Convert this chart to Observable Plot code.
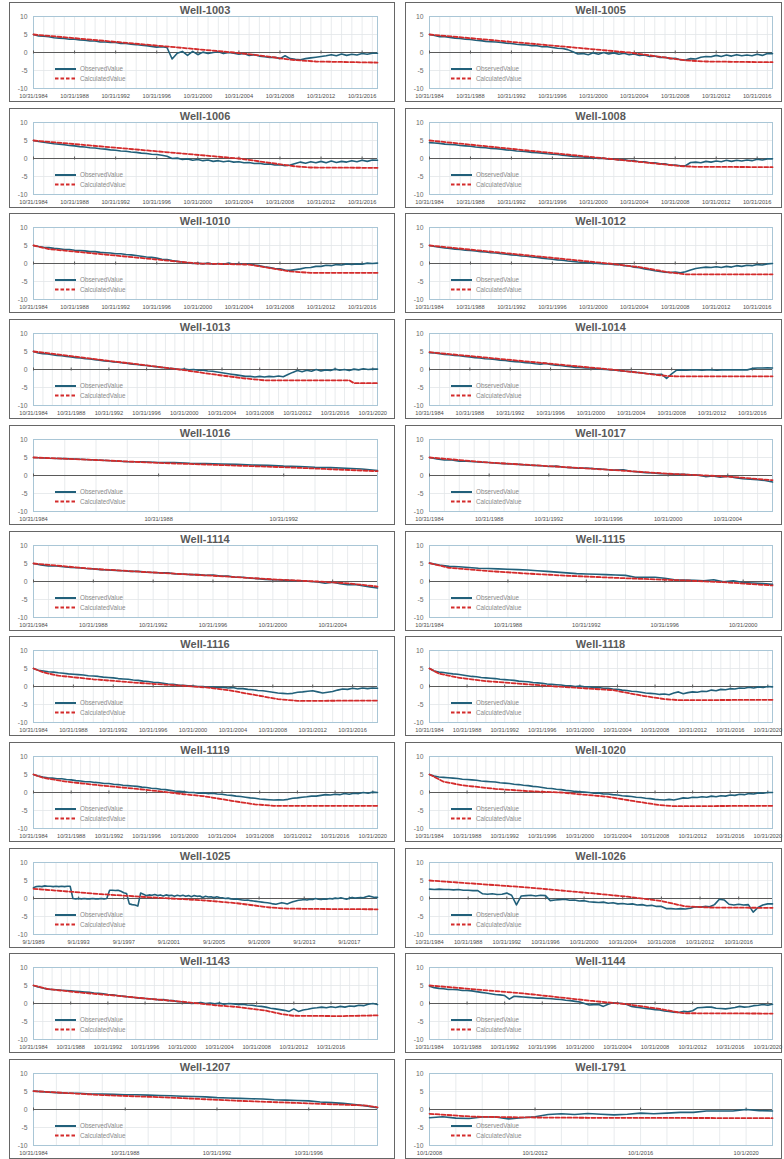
<!DOCTYPE html>
<html>
<head>
<meta charset="utf-8">
<script src="https://cdn.jsdelivr.net/npm/d3@7"></script>
<script src="https://cdn.jsdelivr.net/npm/@observablehq/plot@0.6"></script>
<style>
  html, body { margin: 0; padding: 0; background: #fff; }
  #page { position: relative; width: 784px; height: 1159px; overflow: hidden;
          font-family: "Liberation Sans", Arial, sans-serif; }
  .panel { position: absolute; box-sizing: border-box; height: 100px;
           border: 1px solid #666; background: #fff; }
  .panel .title { position: absolute; top: 1px; height: 13px; line-height: 13px;
                  text-align: center; font-weight: bold; font-size: 11px; color: #595959; }
  .panel .chart { position: absolute; top: 12px; left: 0; }
  .panel .legend { position: absolute; overflow: visible; }
</style>
</head>
<body>
<div id="page"></div>
<script>
// ---- Axis labels (first date of every fourth year shown under each chart) ----
const ticks84to92 = ["10/31/1984", "10/31/1988", "10/31/1992"];
const ticks84to96 = ["10/31/1984", "10/31/1988", "10/31/1992", "10/31/1996"];
const ticks84to00 = ["10/31/1984", "10/31/1988", "10/31/1992", "10/31/1996", "10/31/2000"];
const ticks84to04 = ["10/31/1984", "10/31/1988", "10/31/1992", "10/31/1996", "10/31/2000", "10/31/2004"];
const ticks84to16 = ["10/31/1984", "10/31/1988", "10/31/1992", "10/31/1996", "10/31/2000",
                     "10/31/2004", "10/31/2008", "10/31/2012", "10/31/2016"];
const ticks84to20 = ["10/31/1984", "10/31/1988", "10/31/1992", "10/31/1996", "10/31/2000",
                     "10/31/2004", "10/31/2008", "10/31/2012", "10/31/2016", "10/31/2020"];
const ticks89to17 = ["9/1/1989", "9/1/1993", "9/1/1997", "9/1/2001", "9/1/2005", "9/1/2009", "9/1/2013", "9/1/2017"];
const ticks08to20 = ["10/1/2008", "10/1/2012", "10/1/2016", "10/1/2020"];

const valueTicks = [-10, -5, 0, 5, 10];
const seriesNames = ["ObservedValue", "CalculatedValue"];

// ---- Observed heads: one reading every 6 months from the well's first date
//      (Well-1025: every 3 months) ----
const obs1003 = [5.0, 4.6, 4.5, 4.4, 4.1, 4.0, 3.9, 3.7, 3.7, 3.5,
  3.4, 3.2, 3.2, 2.9, 2.9, 2.8, 2.8, 2.5, 2.5, 2.3,
  2.2, 2.0, 1.9, 1.7, 1.5, 1.6, 1.4, -1.8, -0.2, 0.3,
  -0.8, 0.3, -0.6, 0.1, -0.3, 0.0, 0.2, -0.3, 0.0, -0.2,
  -0.5, -0.3, -0.8, -0.6, -1.0, -1.2, -1.4, -1.3, -1.7, -0.9,
  -1.7, -1.9, -2.0, -1.7, -1.5, -1.3, -1.1, -0.9, -0.6, -0.9,
  -0.4, -0.8, -0.5, -0.7, -0.3, -0.5, -0.2, -0.2];
const obs1005 = [5.0, 4.7, 4.4, 4.4, 4.2, 4.0, 3.9, 3.7, 3.6, 3.4,
  3.3, 3.1, 3.0, 2.9, 2.8, 2.6, 2.5, 2.3, 2.2, 2.1,
  1.9, 1.9, 1.6, 1.6, 1.4, 1.2, 1.1, 0.8, 0.2, -0.4,
  -0.3, -0.6, -0.1, -0.5, 0.0, -0.4, -0.1, -0.5, -0.2, -0.6,
  -0.4, -0.8, -0.7, -1.1, -1.0, -1.4, -1.3, -1.7, -1.6, -2.0,
  -2.1, -1.7, -1.8, -1.3, -1.1, -1.2, -0.8, -1.1, -0.7, -1.0,
  -0.6, -0.9, -0.7, -0.9, -0.5, -0.8, -0.3, -0.3];
const obs1006 = [5.0, 4.7, 4.5, 4.3, 4.1, 4.0, 3.8, 3.6, 3.5, 3.3,
  3.2, 3.0, 2.9, 2.7, 2.6, 2.4, 2.3, 2.1, 2.0, 1.8,
  1.7, 1.5, 1.4, 1.2, 1.1, 0.9, 0.6, 0.0, 0.1, -0.3,
  -0.1, -0.5, -0.3, -0.6, -0.4, -0.8, -0.6, -0.9, -0.7, -1.0,
  -0.9, -1.2, -1.1, -1.4, -1.3, -1.6, -1.5, -1.8, -1.7, -2.0,
  -1.8, -1.4, -1.0, -1.3, -0.9, -1.2, -0.8, -1.2, -0.7, -1.1,
  -0.8, -1.0, -0.6, -0.9, -0.5, -0.8, -0.4, -0.5];
const obs1008 = [4.4, 4.3, 4.2, 4.0, 3.9, 3.8, 3.6, 3.5, 3.4, 3.2,
  3.1, 3.0, 2.8, 2.7, 2.6, 2.4, 2.3, 2.1, 2.0, 1.9,
  1.7, 1.6, 1.5, 1.3, 1.2, 1.1, 0.9, 0.8, 0.6, 0.5,
  0.4, 0.2, 0.2, 0.0, 0.1, -0.2, -0.1, -0.4, -0.3, -0.6,
  -0.6, -0.9, -0.9, -1.2, -1.2, -1.5, -1.5, -1.8, -1.8, -2.0,
  -2.0, -1.1, -1.0, -1.2, -0.8, -1.0, -0.7, -0.9, -0.5, -0.8,
  -0.5, -0.7, -0.4, -0.6, -0.2, -0.4, -0.1, -0.1];
const obs1010 = [5.0, 4.7, 4.5, 4.4, 4.2, 4.1, 3.9, 3.9, 3.7, 3.6,
  3.5, 3.3, 3.3, 3.1, 3.0, 2.9, 2.7, 2.7, 2.5, 2.4,
  2.2, 2.0, 1.8, 1.7, 1.5, 1.2, 1.1, 0.8, 0.6, 0.4,
  0.2, 0.0, 0.1, -0.1, 0.1, -0.2, 0.0, -0.2, 0.1, -0.2,
  0.0, -0.3, -0.1, -0.4, -0.6, -0.9, -1.1, -1.4, -1.5, -1.8,
  -1.9, -1.7, -1.5, -1.2, -1.1, -0.8, -0.8, -0.5, -0.6, -0.3,
  -0.4, -0.1, -0.3, -0.1, -0.2, 0.1, 0.0, 0.1];
const obs1012 = [5.0, 4.7, 4.5, 4.3, 4.2, 4.0, 3.9, 3.7, 3.6, 3.5,
  3.3, 3.2, 3.0, 2.9, 2.7, 2.6, 2.4, 2.3, 2.1, 2.0,
  1.8, 1.7, 1.5, 1.3, 1.2, 1.0, 0.9, 0.7, 0.6, 0.4,
  0.3, 0.2, 0.1, 0.0, -0.1, -0.1, -0.3, -0.3, -0.6, -0.7,
  -1.0, -1.2, -1.5, -1.7, -2.0, -2.2, -2.4, -2.5, -2.4, -2.6,
  -2.3, -1.8, -1.4, -1.2, -1.0, -1.1, -0.9, -1.1, -0.8, -1.0,
  -0.6, -0.8, -0.5, -0.6, -0.3, -0.4, -0.1, 0.0];
const obs1013 = [5.0, 4.6, 4.4, 4.3, 4.1, 3.9, 3.8, 3.6, 3.5, 3.3,
  3.2, 3.0, 2.9, 2.7, 2.6, 2.4, 2.3, 2.1, 2.0, 1.8,
  1.7, 1.5, 1.4, 1.2, 1.1, 0.9, 0.8, 0.6, 0.5, 0.3,
  0.2, 0.0, 0.1, -0.1, 0.0, -0.2, -0.2, -0.4, -0.5, -0.7,
  -0.9, -1.1, -1.3, -1.5, -1.7, -1.9, -1.9, -2.1, -1.9, -2.1,
  -1.9, -2.0, -1.8, -2.0, -1.4, -0.8, -0.3, -0.6, -0.2, -0.5,
  0.0, -0.4, -0.1, -0.3, 0.1, -0.2, 0.0, -0.3, 0.1, -0.1,
  0.2, 0.0, 0.1, 0.1];
const obs1014 = [4.7, 4.6, 4.4, 4.2, 4.1, 3.9, 3.8, 3.6, 3.5, 3.3,
  3.2, 3.0, 2.9, 2.8, 2.6, 2.5, 2.3, 2.2, 2.1, 1.9,
  1.8, 1.6, 1.5, 1.7, 1.4, 1.2, 1.1, 0.9, 0.8, 0.6,
  0.6, 0.4, 0.4, 0.2, 0.1, 0.0, -0.1, -0.2, -0.4, -0.5,
  -0.6, -0.8, -0.9, -1.1, -1.2, -1.4, -1.3, -2.5, -1.2, -0.2,
  -0.1, -0.2, -0.1, -0.1, -0.2, -0.1, -0.1, -0.2, -0.1, -0.1,
  -0.1, -0.1, -0.1, -0.1, 0.3, 0.4, 0.4, 0.5, 0.4];
const obs1016 = [5.0, 4.8, 4.7, 4.5, 4.3, 4.1, 3.8, 3.8, 3.6, 3.6,
  3.4, 3.3, 3.2, 3.1, 2.9, 2.8, 2.6, 2.5, 2.3, 2.2,
  2.0, 1.8, 1.4];
const obs1017 = [5.0, 4.6, 4.3, 4.3, 4.0, 4.0, 3.8, 3.7, 3.6, 3.4,
  3.3, 3.2, 3.1, 2.9, 2.8, 2.7, 2.5, 2.6, 2.3, 2.2,
  2.0, 2.1, 1.9, 1.8, 1.6, 1.5, 1.6, 1.2, 1.0, 0.8,
  0.7, 0.5, 0.5, 0.3, 0.3, 0.2, 0.1, -0.3, -0.1, -0.5,
  -0.2, -0.6, -0.9, -1.0, -1.2, -1.4, -1.8];
const obs1114 = [5.0, 4.6, 4.3, 4.3, 4.1, 3.9, 3.8, 3.6, 3.5, 3.3,
  3.2, 3.1, 3.0, 2.8, 2.8, 2.6, 2.5, 2.4, 2.4, 2.1,
  2.1, 1.9, 1.9, 1.7, 1.8, 1.5, 1.5, 1.2, 1.2, 0.9,
  0.8, 0.6, 0.5, 0.4, 0.3, 0.2, 0.2, 0.0, -0.1, -0.5,
  -0.2, -0.6, -0.9, -0.8, -1.2, -1.5, -1.8];
const obs1115 = [5.1, 4.6, 4.2, 4.1, 3.9, 3.7, 3.6, 3.5, 3.4, 3.3,
  3.2, 3.0, 2.8, 2.6, 2.4, 2.2, 2.1, 2.0, 1.9, 1.8,
  1.7, 1.2, 1.2, 1.2, 0.9, 0.5, 0.4, 0.3, 0.2, 0.5,
  -0.1, 0.2, -0.3, -0.4, -0.6, -0.8];
const obs1116 = [5.0, 4.5, 4.3, 4.1, 4.0, 3.8, 3.7, 3.5, 3.4, 3.3,
  3.2, 3.0, 2.9, 2.8, 2.6, 2.5, 2.4, 2.2, 2.1, 2.0,
  1.8, 1.7, 1.5, 1.4, 1.2, 1.1, 0.9, 0.7, 0.6, 0.4,
  0.3, 0.2, 0.1, 0.0, 0.0, -0.2, -0.1, -0.3, -0.2, -0.4,
  -0.3, -0.6, -0.6, -0.8, -0.9, -1.1, -1.2, -1.4, -1.6, -1.8,
  -1.9, -2.0, -1.9, -1.6, -1.5, -1.3, -1.2, -1.5, -1.8, -1.6,
  -1.4, -1.0, -0.7, -0.8, -0.5, -0.7, -0.4, -0.6, -0.4, -0.5];
const obs1118 = [5.0, 4.3, 4.0, 3.9, 3.7, 3.5, 3.4, 3.2, 3.0, 2.8,
  2.7, 2.5, 2.4, 2.3, 2.2, 2.0, 1.9, 1.8, 1.7, 1.5,
  1.4, 1.3, 1.1, 1.0, 0.9, 0.7, 0.6, 0.5, 0.4, 0.2,
  0.2, 0.0, 0.1, -0.1, -0.1, -0.3, -0.3, -0.5, -0.5, -0.7,
  -0.8, -1.0, -1.1, -1.3, -1.4, -1.6, -1.8, -1.9, -2.0, -2.2,
  -2.1, -2.3, -1.8, -1.5, -2.0, -1.7, -1.5, -1.6, -1.3, -1.4,
  -1.0, -1.2, -0.8, -0.9, -0.6, -0.7, -0.4, -0.5, -0.2, -0.4,
  -0.1, -0.3, 0.0, -0.1];
const obs1119 = [5.0, 4.6, 4.3, 4.1, 4.0, 3.8, 3.8, 3.6, 3.5, 3.3,
  3.2, 3.0, 3.0, 2.8, 2.7, 2.5, 2.5, 2.3, 2.2, 2.0,
  1.9, 1.8, 1.7, 1.5, 1.4, 1.2, 1.1, 0.9, 0.8, 0.6,
  0.4, 0.3, 0.2, 0.0, 0.0, -0.2, -0.1, -0.3, -0.2, -0.4,
  -0.5, -0.7, -0.8, -1.0, -1.1, -1.3, -1.5, -1.6, -1.8, -1.9,
  -2.0, -2.1, -2.0, -2.1, -1.9, -1.6, -1.5, -1.3, -1.2, -1.0,
  -1.0, -0.8, -0.6, -0.7, -0.5, -0.6, -0.3, -0.5, -0.2, -0.3,
  0.0, -0.2, 0.1, 0.0];
const obs1020 = [5.0, 4.6, 4.3, 4.2, 4.1, 4.0, 3.9, 3.7, 3.6, 3.5,
  3.4, 3.2, 3.1, 3.0, 2.9, 2.7, 2.6, 2.5, 2.3, 2.2,
  2.0, 1.9, 1.7, 1.6, 1.4, 1.2, 1.1, 0.9, 0.8, 0.6,
  0.5, 0.3, 0.2, 0.1, 0.0, -0.2, -0.1, -0.4, -0.4, -0.6,
  -0.7, -0.9, -1.0, -1.1, -1.3, -1.4, -1.6, -1.7, -1.9, -2.0,
  -2.1, -1.9, -2.1, -1.8, -1.5, -1.6, -1.3, -1.4, -1.2, -1.3,
  -1.0, -1.2, -0.9, -1.0, -0.7, -0.8, -0.5, -0.6, -0.3, -0.4,
  -0.1, -0.2, 0.0, 0.0];
const obs1025 = [
  3.0, 3.3, 3.4, 3.3,   3.5, 3.4, 3.4, 3.3,   3.4, 3.3, 3.4, 3.3,
  3.4, 3.4, 0.0, -0.1,  0.0, -0.1, 0.0, -0.1, -0.1, 0.0, -0.1, -0.1,
  0.0, -0.1, 0.0, 2.3,  2.3, 2.2, 2.3, 2.0,   1.6, 1.4, -1.5, -1.7,
  -1.8, -2.1, 1.5, 1.2, 0.8, 1.0, 0.9, 1.1,   0.8, 1.0, 0.7, 1.0,
  0.8, 0.9, 0.6, 0.9,   0.7, 0.9, 0.6, 0.8,   0.5, 0.8, 0.6, 0.7,
  0.3, 0.6, 0.4, 0.5,   0.2, 0.5, 0.3, 0.2,   0.0, 0.1, -0.1, -0.2,
  -0.1, -0.3, -0.4, -0.5, -0.4, -0.6, -0.7, -0.8, -0.9, -1.0, -1.1, -1.2,
  -1.3, -1.5, -1.6, -1.4, -1.2, -1.3, -1.5, -1.2, -0.9, -0.7, -0.5, -0.4,
  -0.3, -0.4, -0.2, -0.3, 0.0, -0.2, -0.3, -0.1, -0.2, 0.0, -0.1, 0.1,
  0.0, 0.2, 0.0, -0.2,  0.1, 0.3, 0.1, 0.2,   0.3, 0.2, 0.5, 0.7,
  0.5, 0.3, 0.3];
const obs1026 = [2.6, 2.5, 2.6, 2.5, 2.5, 2.4, 2.5, 2.3, 2.3, 2.2,
  2.2, 1.3, 1.2, 1.3, 1.1, 1.2, 1.5, 0.9, -1.8, 0.7,
  0.8, 0.9, 0.7, 0.9, 0.8, -0.6, -0.4, -0.3, -0.2, -0.5,
  -0.4, -0.7, -0.6, -0.9, -1.0, -1.1, -1.0, -1.3, -1.2, -1.5,
  -1.4, -1.6, -1.5, -1.8, -1.7, -2.0, -1.9, -2.2, -2.2, -2.8,
  -2.8, -2.9, -2.8, -2.9, -2.7, -2.3, -2.4, -2.2, -2.3, -1.7,
  -0.2, -0.4, -1.6, -1.8, -1.6, -1.8, -1.7, -3.8, -2.5, -1.8,
  -1.5, -1.5];
const obs1143 = [5.0, 4.6, 4.3, 4.0, 3.9, 3.8, 3.7, 3.6, 3.5, 3.4,
  3.3, 3.2, 3.1, 2.9, 2.8, 2.7, 2.5, 2.4, 2.2, 2.1,
  1.9, 1.8, 1.6, 1.5, 1.4, 1.3, 1.2, 1.0, 1.1, 0.8,
  0.8, 0.5, 0.5, 0.2, 0.0, 0.1, 0.3, 0.0, 0.1, -0.1,
  0.1, -0.2, 0.0, -0.1, -0.3, -0.2, -0.4, -0.5, -0.7, -0.8,
  -1.0, -1.3, -1.5, -1.7, -1.9, -2.2, -1.5, -2.2, -1.8, -1.6,
  -1.3, -1.2, -1.0, -1.2, -0.9, -1.1, -0.8, -1.0, -0.7, -0.8,
  -0.5, -0.6, -0.2, 0.0, -0.3];
const obs1144 = [4.8, 4.4, 4.2, 4.1, 3.9, 3.9, 3.8, 3.6, 3.6, 3.5,
  3.3, 3.1, 2.9, 2.7, 2.5, 2.4, 2.2, 1.2, 2.0, 1.9,
  1.8, 1.7, 1.6, 1.5, 1.5, 1.4, 1.3, 1.2, 1.1, 0.9,
  0.8, 0.6, 0.4, 0.0, -0.4, -0.3, -0.3, -0.8, -0.2, 0.2,
  0.1, 0.0, -0.3, -0.8, -1.0, -1.2, -1.4, -1.5, -1.7, -1.8,
  -2.1, -2.2, -2.4, -2.5, -2.2, -2.3, -2.0, -1.2, -1.1, -1.0,
  -1.0, -1.3, -1.4, -1.5, -1.3, -1.1, -0.8, -1.0, -0.9, -0.6,
  -0.5, -0.3, -0.5, -0.2];
const obs1207 = [5.1, 4.9, 4.7, 4.5, 4.5, 4.3, 4.3, 4.2, 4.1, 4.1,
  4.0, 3.9, 3.8, 3.7, 3.6, 3.5, 3.3, 3.2, 3.1, 3.0,
  2.9, 2.7, 2.6, 2.5, 2.4, 2.1, 1.9, 1.7, 1.4, 1.0, 0.5];
const obs1791 = [-2.3, -2.0, -2.4, -2.5, -2.1, -2.1, -2.6, -2.3, -2.0, -1.4,
  -1.2, -1.4, -1.1, -1.3, -1.5, -1.3, -1.0, -1.2, -1.0, -0.8,
  -0.8, -0.4, -0.4, -0.4, 0.0, -0.3, -0.4];

// ---- Calculated heads: [years after the well's first date, value] ----
const calc1003 = [[0, 5.0], [19.5, 0.0], [22, -0.8], [25, -2.0], [27.5, -2.5], [33.5, -2.8]];
const calc1005 = [[0, 5.0], [19.5, 0.0], [25, -2.2], [27, -2.5], [33.5, -2.7]];
const calc1006 = [[0, 5.0], [20, 0.0], [25.5, -2.2], [27, -2.5], [33.5, -2.6]];
const calc1008 = [[0, 5.0], [24.5, -2.1], [26, -2.3], [33.5, -2.4]];
const calc1010 = [[0, 5.0], [1.5, 4.0], [16, 0.0], [21, -0.3], [25, -2.2], [27, -2.6], [33.5, -2.6]];
const calc1012 = [[0, 5.0], [17.5, 0.0], [20.5, -1.0], [23.5, -2.5], [25, -3.0], [33.5, -3.0]];
const calc1013 = [[0, 5.0], [15.5, 0.0], [19.5, -1.5], [22.5, -2.5], [24.5, -3.0], [33.5, -3.0], [34, -3.8], [36.5, -3.8]];
const calc1014 = [[0, 4.8], [18, 0.0], [23.5, -1.8], [24.5, -1.9], [34, -1.9]];
const calc1016 = [[0, 5.0], [2, 4.3], [4, 3.5], [6, 2.9], [8, 2.3], [11, 1.2]];
const calc1017 = [[0, 5.0], [4, 3.6], [8, 2.6], [12, 1.6], [16, 0.5], [20, -0.3], [23, -1.3]];
const calc1114 = [[0, 5.0], [4, 3.5], [8, 2.5], [12, 1.6], [16, 0.6], [19, 0.0], [21, -0.5], [23, -1.4]];
const calc1115 = [[0, 5.1], [1, 3.8], [3, 2.9], [5, 2.2], [7, 1.6], [10, 0.9], [13, 0.3], [15, -0.2], [17.5, -1.1]];
const calc1116 = [[0, 5.0], [1, 3.9], [2.5, 3.0], [6, 2.0], [10.5, 1.0], [14.5, 0.3], [17.5, -0.3], [19.5, -1.0],
                  [22.5, -2.5], [24.5, -3.5], [26.5, -4.0], [34.5, -3.9]];
const calc1118 = [[0, 5.0], [1, 3.6], [3, 2.5], [6, 1.5], [9.5, 0.8], [13.5, 0.0], [16.5, -0.5], [19.5, -1.0],
                  [22.5, -2.5], [25, -3.5], [26.5, -3.8], [36.5, -3.7]];
const calc1119 = [[0, 5.0], [1, 4.1], [3.5, 3.0], [7, 2.0], [11, 1.0], [14.5, 0.0], [16, -0.5], [18, -1.0],
                  [21, -2.3], [23.5, -3.3], [25.5, -3.7], [36.5, -3.7]];
const calc1020 = [[0, 5.0], [1.5, 3.0], [3.5, 2.0], [7, 1.0], [11, 0.3], [14, 0.0], [16, -0.5], [19, -1.2],
                  [22, -2.5], [24.5, -3.5], [26, -3.8], [36.5, -3.7]];
const calc1025 = [[0, 2.7], [6, 1.2], [10.5, 0.3], [15, -0.5], [18, -1.3], [21, -2.5], [22.5, -2.8], [25, -2.9], [30.5, -3.0]];
const calc1026 = [[0, 5.0], [10, 3.1], [17, 1.4], [20.5, 0.5], [24, -0.7], [26.5, -2.2], [29, -2.5], [35.5, -2.6]];
const calc1143 = [[0, 5.0], [1.6, 4.0], [5.2, 3.0], [8.8, 2.2], [12.4, 1.3], [16, 0.5], [17.8, 0.0], [19.6, -0.5],
                  [22.1, -1.0], [25, -2.0], [26.8, -3.0], [27.9, -3.4], [33, -3.5], [37, -3.3]];
const calc1144 = [[0, 5.0], [10, 2.8], [17.3, 0.7], [21, -0.2], [24.5, -1.5], [27, -2.7], [36.5, -2.8]];
const calc1207 = [[0, 5.1], [3, 4.0], [6, 3.3], [9, 2.4], [12, 1.7], [14.5, 1.1], [15, 0.6]];
const calc1791 = [[0, -1.2], [1.7, -2.0], [3.6, -2.2], [6, -2.3], [13, -2.4]];

// ---- Chart list, two per row ----
const panels = [
  {name: "Well-1003", start: "10/31/1984", months: 6, obs: obs1003, calc: calc1003, ticks: ticks84to16},
  {name: "Well-1005", start: "10/31/1984", months: 6, obs: obs1005, calc: calc1005, ticks: ticks84to16},
  {name: "Well-1006", start: "10/31/1984", months: 6, obs: obs1006, calc: calc1006, ticks: ticks84to16},
  {name: "Well-1008", start: "10/31/1984", months: 6, obs: obs1008, calc: calc1008, ticks: ticks84to16},
  {name: "Well-1010", start: "10/31/1984", months: 6, obs: obs1010, calc: calc1010, ticks: ticks84to16},
  {name: "Well-1012", start: "10/31/1984", months: 6, obs: obs1012, calc: calc1012, ticks: ticks84to16},
  {name: "Well-1013", start: "10/31/1984", months: 6, obs: obs1013, calc: calc1013, ticks: ticks84to20},
  {name: "Well-1014", start: "10/31/1984", months: 6, obs: obs1014, calc: calc1014, ticks: ticks84to16},
  {name: "Well-1016", start: "10/31/1984", months: 6, obs: obs1016, calc: calc1016, ticks: ticks84to92},
  {name: "Well-1017", start: "10/31/1984", months: 6, obs: obs1017, calc: calc1017, ticks: ticks84to04},
  {name: "Well-1114", start: "10/31/1984", months: 6, obs: obs1114, calc: calc1114, ticks: ticks84to04},
  {name: "Well-1115", start: "10/31/1984", months: 6, obs: obs1115, calc: calc1115, ticks: ticks84to00},
  {name: "Well-1116", start: "10/31/1984", months: 6, obs: obs1116, calc: calc1116, ticks: ticks84to16},
  {name: "Well-1118", start: "10/31/1984", months: 6, obs: obs1118, calc: calc1118, ticks: ticks84to20},
  {name: "Well-1119", start: "10/31/1984", months: 6, obs: obs1119, calc: calc1119, ticks: ticks84to20},
  {name: "Well-1020", start: "10/31/1984", months: 6, obs: obs1020, calc: calc1020, ticks: ticks84to20},
  {name: "Well-1025", start: "9/1/1989",   months: 3, obs: obs1025, calc: calc1025, ticks: ticks89to17},
  {name: "Well-1026", start: "10/31/1984", months: 6, obs: obs1026, calc: calc1026, ticks: ticks84to16},
  {name: "Well-1143", start: "10/31/1984", months: 6, obs: obs1143, calc: calc1143, ticks: ticks84to16},
  {name: "Well-1144", start: "10/31/1984", months: 6, obs: obs1144, calc: calc1144, ticks: ticks84to20},
  {name: "Well-1207", start: "10/31/1984", months: 6, obs: obs1207, calc: calc1207, ticks: ticks84to96},
  {name: "Well-1791", start: "10/1/2008",  months: 6, obs: obs1791, calc: calc1791, ticks: ticks08to20}
];

// ---- Layout ----
const OBS_COLOR = "#21607a";
const CALC_COLOR = "#d42b2b";
const ROW_PITCH = 105.7, TOP0 = 2;
const COLUMNS = [{left: 9, width: 386, marginRight: 17}, {left: 405, width: 377, marginRight: 9}];
const MARGIN_LEFT = 23, MARGIN_TOP = 1, MARGIN_BOTTOM = 12, SVG_HEIGHT = 85;

const parseDay = d3.utcParse("%m/%d/%Y");
const page = document.getElementById("page");

panels.forEach((p, i) => {
  const col = COLUMNS[i % 2];
  const row = Math.floor(i / 2);
  const innerWidth = col.width - 2;
  const plotWidth = innerWidth - MARGIN_LEFT - col.marginRight;

  const box = d3.select(page).append("div")
    .attr("class", "panel")
    .style("left", col.left + "px")
    .style("top", (TOP0 + row * ROW_PITCH) + "px")
    .style("width", col.width + "px");

  box.append("div")
    .attr("class", "title")
    .style("left", MARGIN_LEFT + "px")
    .style("width", plotWidth + "px")
    .text(p.name);

  const start = parseDay(p.start);
  const observed = p.obs.map((v, k) => ({date: d3.utcMonth.offset(start, k * p.months), value: v}));
  const calculated = p.calc.map(([t, v]) => ({date: d3.utcMonth.offset(start, Math.round(t * 12)), value: v}));
  const end = observed[observed.length - 1].date;
  const tickDates = p.ticks.map(parseDay);
  const labelOf = new Map(p.ticks.map(s => [+parseDay(s), s]));
  const yearLines = d3.range(1, 60).map(k => d3.utcYear.offset(start, k)).filter(d => d < end);

  const chart = Plot.plot({
    width: innerWidth,
    height: SVG_HEIGHT,
    marginLeft: MARGIN_LEFT,
    marginRight: col.marginRight,
    marginTop: MARGIN_TOP,
    marginBottom: MARGIN_BOTTOM,
    x: {type: "utc", domain: [start, end]},
    y: {domain: [-10, 10]},
    style: {fontFamily: "'Liberation Sans', Arial, sans-serif", fontSize: "6px", color: "#595959",
            background: "transparent", overflow: "visible"},
    marks: [
      Plot.ruleX(yearLines, {stroke: "#e2e6e9", strokeWidth: 0.8}),
      Plot.ruleY([-5, 5], {stroke: "#e2e6e9", strokeWidth: 0.8}),
      Plot.frame({stroke: "#a9c6d6", strokeWidth: 1}),
      Plot.ruleY([0], {stroke: "#5a5a5a", strokeWidth: 1}),
      Plot.ruleX(tickDates, {y1: 0, y2: 0, insetTop: -1.5, insetBottom: -1.5, stroke: "#5a5a5a", strokeWidth: 1}),
      Plot.axisY({ticks: valueTicks, tickSize: 0, tickPadding: 6, tickFormat: d => String(d), label: null,
                  fontSize: 6.8, fill: "#6b6b6b"}),
      Plot.axisX({ticks: tickDates, tickSize: 0, tickPadding: 5.5, tickFormat: d => labelOf.get(+d), label: null,
                  fontSize: 5.7, fill: "#4d4d4d"}),
      Plot.line(observed, {x: "date", y: "value", stroke: OBS_COLOR, strokeWidth: 1.6}),
      Plot.line(calculated, {x: "date", y: "value", stroke: CALC_COLOR, strokeWidth: 1.8, strokeDasharray: "4,2"})
    ]
  });

  box.append("div").attr("class", "chart").node().appendChild(chart);

  // Legend in the lower left of the plotting area
  const legend = box.append("svg")
    .attr("class", "legend")
    .attr("width", 110).attr("height", 22)
    .style("left", (MARGIN_LEFT + 22) + "px")
    .style("top", "60px");
  const styles = [
    {stroke: OBS_COLOR, width: 2, dash: null},
    {stroke: CALC_COLOR, width: 2, dash: "3.5,2"}
  ];
  seriesNames.forEach((name, k) => {
    const y = 6 + k * 9.5;
    legend.append("line")
      .attr("x1", 0).attr("x2", 21).attr("y1", y).attr("y2", y)
      .attr("stroke", styles[k].stroke).attr("stroke-width", styles[k].width)
      .attr("stroke-dasharray", styles[k].dash);
    legend.append("text")
      .attr("x", 25).attr("y", y).attr("dy", "0.35em")
      .attr("font-size", 6.3).attr("fill", "#8a8a8a")
      .attr("font-family", "'Liberation Sans', Arial, sans-serif")
      .text(name);
  });
});
</script>
</body>
</html>
